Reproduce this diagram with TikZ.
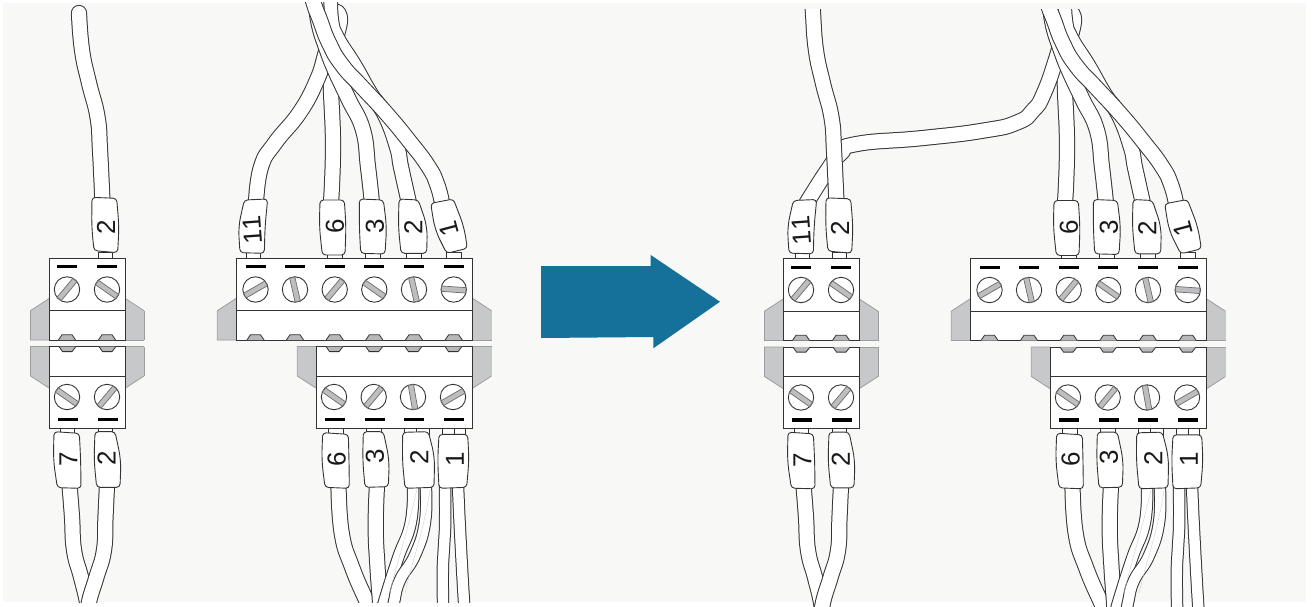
\documentclass[tikz,border=0pt]{standalone}
\usepackage{fontspec}
\setmainfont{Liberation Sans}
\definecolor{panelbg}{HTML}{F8F8F6}
\definecolor{ink}{HTML}{333333}
\definecolor{eargray}{HTML}{C7C8CA}
\definecolor{earline}{HTML}{9C9D9F}
\definecolor{slotgray}{HTML}{BDBEC0}
\definecolor{arrowblue}{HTML}{15709A}
\tikzset{
  wirepath/.style={draw=ink,double=white,double distance=14.2pt,line width=1pt,line cap=round},
  wirethin/.style={draw=ink,double=white,double distance=10.4pt,line width=1pt,line cap=round},
  ghost/.style={draw=black!22,line width=.3pt},
  ferrule/.style={draw=ink,fill=white,line width=.9pt},
  tag/.style={font=\fontsize{26}{26}\selectfont\addfontfeatures{Kerning=Off},inner sep=0pt,text=black!90},
  stub/.style={draw=ink,fill=white,line width=.8pt},
  blockbox/.style={draw=ink,fill=white,line width=1pt},
  earfill/.style={fill=eargray},
  earstroke/.style={draw=earline,line width=.8pt},
  hexa/.style={draw=ink,fill=eargray!92!black,line width=.8pt},
  bar/.style={fill=black},
  screw/.style={circle,draw=ink,fill=white,line width=.9pt,minimum size=25.4pt,inner sep=0pt},
  slot/.style={draw=black!58,fill=slotgray,line width=.7pt},
  zoomtop/.style={x=.33333pt,y=-.33333pt},
  zoombot/.style={x=.33333pt,y=-.33333pt,yshift=-300pt},
  smoothwire/.style={smooth,tension=.8},
}
\newcommand\fshape[6]{\draw[ferrule,rounded corners=3.5pt] (#1) -- (#2) [rounded corners=10pt] -- (#3) [rounded corners=3.5pt] -- (#4) -- (#5) [rounded corners=10pt] -- (#6) [rounded corners=3.5pt] -- cycle;}
\newcommand\ftag[5]{\node[tag,rotate=#5] (#1) at (#3,#4) {#2};}
\newcommand\stubbox[2]{\draw[stub] (#1,252) rectangle (#2,259);}
\newcommand\stubboxlow[2]{\draw[stub] (#1,427) rectangle (#2,435);}
% ears: #1 x0, #2 x1, #3 end stroke colour of right ear
\newcommand\earsTop[3]{
  \fill[earfill] (#1,298.3) -- ({#1-19},310.7) -- ({#1-19},340) -- (#1,340) -- cycle;
  \fill[earfill] (#2,298.3) -- ({#2+19},310.7) -- ({#2+19},340) -- (#2,340) -- cycle;
  \draw[earstroke] (#1,298.3) -- ({#1-19},310.7) -- ({#1-19},340) -- (#1,340);
  \draw[earstroke] (#2,298.3) -- ({#2+19},310.7);
  \draw[earstroke,draw=#3] ({#2+19},310.7) -- ({#2+19},340);
  \draw[earstroke] ({#2+19},340) -- (#2,340);
}
\newcommand\earsBot[3]{
  \fill[earfill] (#1,388.3) -- ({#1-19},376) -- ({#1-19},346.5) -- (#1,346.5) -- cycle;
  \fill[earfill] (#2,388.3) -- ({#2+19},376) -- ({#2+19},346.5) -- (#2,346.5) -- cycle;
  \draw[earstroke] (#1,388.3) -- ({#1-19},376) -- ({#1-19},346.5) -- (#1,346.5);
  \draw[earstroke] (#2,388.3) -- ({#2+19},376);
  \draw[earstroke,draw=#3] ({#2+19},376) -- ({#2+19},346.5);
  \draw[earstroke] ({#2+19},346.5) -- (#2,346.5);
}
\newcommand\screwat[4]{% name x y angle
  \node[screw] (#1) at (#2,#3) {};
  \draw[slot,shift={(#2,#3)},rotate=#4] (-12.2,-2.7) rectangle (12.2,2.7);
}
\newcommand\blockTop[4]{% prefix x0 x1 list
  \draw[blockbox] (#2,258) rectangle (#3,340);
  \draw[blockbox] (#2,310.7) -- (#3,310.7);
  \foreach \sx/\sa [count=\si] in {#4}{
    \fill[bar] ({\sx-10},265) rectangle ({\sx+10},268.4);
    \screwat{#1s\si}{\sx}{289.5}{\sa}
    \draw[hexa] ({\sx-8.6},340) -- ({\sx-5},334.8) -- ({\sx+5},334.8) -- ({\sx+8.6},340);
  }
}
\newcommand\blockBot[4]{% prefix x0 x1 list
  \draw[blockbox] (#2,346.5) rectangle (#3,428.3);
  \draw[blockbox] (#2,376) -- (#3,376);
  \foreach \sx/\sa [count=\si] in {#4}{
    \fill[bar] ({\sx-9},417.8) rectangle ({\sx+11},421.2);
    \screwat{#1s\si}{\sx}{397}{\sa}
    \draw[hexa] ({\sx-8},346.5) -- ({\sx-4.5},351.6) -- ({\sx+5},351.6) -- ({\sx+9},346.5);
  }
}
% ------ parts shared by the two panels
\newcommand\wireSix{\draw[wirepath] plot[smoothwire] coordinates {(337,12) (340,20) (336,40) (331,70) (331,90) (333,147) (331,203)};}
\newcommand\wireTopMain{
  \draw[wirepath] plot[smoothwire] coordinates {(330,-8) (331,20) (337,38) (354,65) (370,93) (385,115) (397,147) (401,167) (409,203)};
  \draw[wirepath] plot[smoothwire] coordinates {(316,-8) (318,20) (327,50) (338,77) (349,100) (363,130) (368,167) (372,203)};
  \draw[wirepath] plot[smooth,tension=.9] coordinates {(310,-12) (314,4) (320,20) (329,43) (342,65) (362,87) (386,113) (410,142) (428,166) (437,184) (442,203)};
}
\newcommand\wiresBottom{
  \draw[wirepath] plot[smoothwire] coordinates {(69.5,485) (72,517) (74,550) (81,577) (87,602) (90,625)};
  \draw[wirepath] plot[smoothwire] coordinates {(107,485) (105.5,517) (104,550) (96.5,577) (89,602) (86,625)};
  \draw[wirepath] plot[smoothwire] coordinates {(338.5,485) (341.7,533) (352,567) (367,602) (378,625)};
  \draw[wirepath] plot[smoothwire] coordinates {(377,485) (375.7,527) (377.5,567) (380,602) (381,625)};
  \draw[wirethin] plot[smoothwire] coordinates {(413,485) (410.7,523) (398,558) (384,602) (378,625)};
  \draw[wirethin] plot[smoothwire] coordinates {(425.7,485) (425,522) (415,555) (400,580) (394,602) (390,625)};
  \draw[ghost] (416.7,490) .. controls (408,530) and (396,565) .. (390,593);
  \draw[ghost] (430,490) .. controls (424,530) and (411,565) .. (405,593);
  \draw[wirethin] plot[smoothwire] coordinates {(458,485) (460,530) (464,602) (466,625)};
  \draw[wirethin] plot[smoothwire] coordinates {(445,485) (445,530) (443,563) (443,602) (444,625)};
}
\newcommand\blocksAll[1]{
  \earsTop{49.5}{125}{earline}
  \blockTop{#1a}{49.5}{125}{67/50,107/-35}
  \earsBot{49.5}{125}{earline}
  \blockBot{#1b}{49.5}{125}{67/-35,107/50}
  \earsTop{236.3}{472.5}{eargray}
  \blockTop{#1c}{236.3}{472.5}{255.5/30,295/103,334.7/50,374.3/-35,414/103,453.7/-4}
  \earsBot{316.3}{472.5}{eargray}
  \blockBot{#1d}{316.3}{472.5}{334/-35,373.7/50,413/100,453/30}
}
\newcommand\ferrulesCommon[1]{
  \stubbox{98.3}{112.7}\stubbox{327.7}{342.3}\stubbox{365.7}{380}\stubbox{406.7}{421}\stubbox{446.7}{461}
  \stubboxlow{60.3}{74.7}\stubboxlow{98.7}{112.7}\stubboxlow{328}{343}\stubboxlow{366.7}{381}
  \stubboxlow{404}{429}\draw[stub] (416.3,428) -- (416.3,435);
  \stubboxlow{442.7}{465.7}\draw[stub] (454,428) -- (454,435);
  \begin{scope}[zoomtop]
    \fshape{276,592}{350,595}{357,680}{353,758}{282,752}{275,680}
    \ftag{#1t2a}{2}{318}{682}{90}
    \fshape{960,600}{1033,600}{1038,680}{1035,765}{967,765}{958,680}
    \ftag{#1t6}{6}{1005}{680}{90}
    \fshape{1078,597}{1150,600}{1160,680}{1155,762}{1082,760}{1078,680}
    \ftag{#1t3}{3}{1125}{680}{90}
    \fshape{1197,597}{1255,600}{1282,680}{1280,760}{1203,760}{1195,680}
    \ftag{#1t2}{2}{1240}{682}{90}
    \fshape{1292,610}{1360,597}{1392,680}{1402,745}{1340,760}{1305,690}
    \ftag{#1t1}{1}{1347}{685}{105}
  \end{scope}
  \begin{scope}[zoombot]
    \fshape{162,395}{238,400}{242,480}{243,565}{172,563}{160,480}
    \ftag{#1b7}{7}{205}{478}{90}
    \fshape{285,395}{345,395}{363,480}{360,562}{290,562}{282,480}
    \ftag{#1b2a}{2}{320}{475}{90}
    \fshape{968,398}{1045,403}{1047,480}{1048,565}{975,562}{965,480}
    \ftag{#1b6}{6}{1010}{477}{90}
    \fshape{1090,395}{1150,395}{1168,480}{1165,560}{1095,562}{1088,480}
    \ftag{#1b3}{3}{1125}{470}{90}
    \fshape{1208,397}{1285,395}{1304,470}{1302,562}{1215,565}{1207,480}
    \ftag{#1b2}{2}{1258}{473}{90}
    \fshape{1317,403}{1403,403}{1407,480}{1400,562}{1317,565}{1313,480}
    \ftag{#1b1}{1}{1365}{477}{90}
  \end{scope}
}
\newcommand\ferruleEleven[1]{
  \stubbox{246.7}{260}
  \begin{scope}[zoomtop]
    \fshape{733,600}{803,597}{795,680}{793,760}{720,758}{715,680}
    \ftag{#1t11}{11}{758}{690}{94}
  \end{scope}
}
\begin{document}
\begin{tikzpicture}[x=1pt,y=-1pt]
\useasboundingbox (0,0) rectangle (1313,607);
\fill[white] (0,0) rectangle (1313,607);
\fill[panelbg] (3,3) rectangle (1306,602);
% ---------- left panel
\begin{scope}
  \clip (0,3) rectangle (530,602);
  \wireSix
  \draw[wirepath] plot[smoothwire] coordinates {(256,203) (261,167) (275,143) (300,112) (317,80) (325,55) (330,35)};
  \wireTopMain
  \draw[wirepath] plot[smoothwire] coordinates {(79,13) (82,50) (89,83) (97.5,117) (100,150) (102.5,203)};
  \wiresBottom
\end{scope}
\ferruleEleven{L}
\ferrulesCommon{L}
\blocksAll{L}
% ---------- arrow
\fill[arrowblue] (541,266) -- (650.7,266) -- (650.7,255) -- (720,301.7) -- (653.3,348.3) -- (653.3,337) -- (541,338) -- cycle;
% ---------- right panel
\begin{scope}[shift={(734,0.5)}]
  \begin{scope}
    \clip (-30,9.5) rectangle (530,607);
    \wireSix
    \draw[wirepath] plot[smooth,tension=.9] coordinates {(72.3,203) (93.3,170) (106.7,153) (122.7,143.5) (189,137.5) (250,130) (283,122) (299,110) (310,92.5) (322.7,56.5) (326,42.5)};
    \wireTopMain
    \draw[wirepath] plot[smoothwire] coordinates {(78,-8) (79,13) (82,50) (89,83) (97.5,117) (100,150) (102.5,203)};
    \wiresBottom
  \end{scope}
  \begin{scope}[xshift=-185pt]
    \ferruleEleven{R}
  \end{scope}
  \ferrulesCommon{R}
  \blocksAll{R}
\end{scope}
\end{tikzpicture}
\end{document}
